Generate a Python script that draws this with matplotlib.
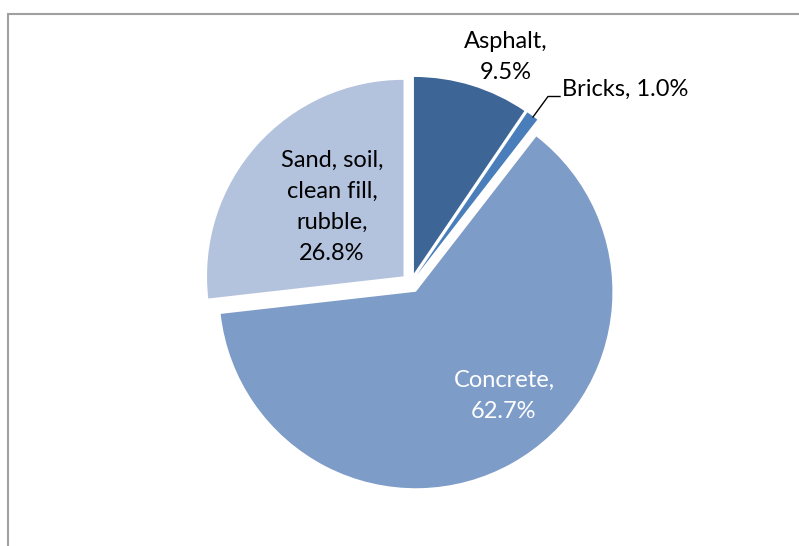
import numpy as np
import matplotlib
matplotlib.use('Agg')
from matplotlib import pyplot as plt
from matplotlib.patches import Rectangle

# data
materials = ['Asphalt', 'Bricks', 'Concrete', 'Sand, soil,\nclean fill,\nrubble']
shares = [9.5, 1.0, 62.7, 26.8]
colors = ['#3D6696', '#4A7EBB', '#7E9CC8', '#B3C2DD']
label_colors = ['black', 'black', 'white', 'black']

plt.rcParams['font.family'] = ['Lato', 'DejaVu Sans']

W, H = 799, 546
fig = plt.figure(figsize=(W / 100, H / 100), dpi=100)
ax = fig.add_axes([0, 0, 1, 1])
ax.set_xlim(0, W)
ax.set_ylim(0, H)
ax.set_aspect('equal')
ax.axis('off')

# pie in pixel units (y up)
cx, cy, R = 411, H - 283, 196.5
wedges, _ = ax.pie(shares, colors=colors, startangle=90, counterclock=False,
                   center=(cx, cy), radius=R, explode=[10] * len(shares),
                   wedgeprops=dict(linewidth=0))
ax.set_xlim(0, W)
ax.set_ylim(0, H)

# chart border (right and bottom run off the picture)
ax.add_patch(Rectangle((8, -20), W + 40, H - 14 + 20, fill=False,
                       edgecolor='#A0A0A0', linewidth=1.5, clip_on=False))

# data labels
texts = [f'{m},\n{s:.1f}%' for m, s in zip(materials, shares)]
texts[1] = f'{materials[1]}, {shares[1]:.1f}%'
label_pos = [(506, H - 57), (562, H - 89), (504, H - 396), (332, H - 207)]
aligns = ['center', 'left', 'center', 'center']
for t, (x, y), c, ha in zip(texts, label_pos, label_colors, aligns):
    ax.text(x, y, t, ha=ha, va='center', color=c, fontsize=17,
            linespacing=1.6, multialignment='center')

# leader line for Bricks
ax.plot([533, 548, 560], [H - 117, H - 96.5, H - 96.5], color='black', lw=1)

fig.savefig('out.png', dpi=100)
